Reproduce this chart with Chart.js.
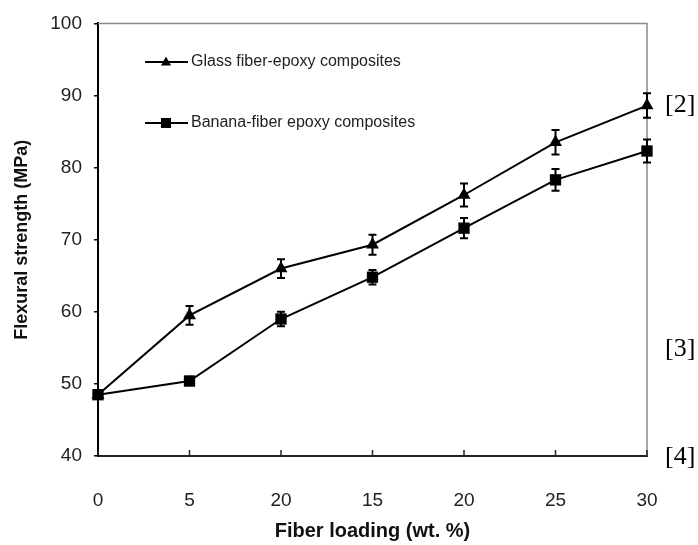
<!DOCTYPE html>
<html>
<head>
<meta charset="utf-8">
<script src="https://cdn.jsdelivr.net/npm/chart.js@4"></script>
<style>
  html, body { margin: 0; padding: 0; background: #fff; }
</style>
</head>
<body>
<canvas id="chart" width="698" height="545"></canvas>
<script>
// ----------------- DATA -----------------
const loadings = ["0", "5", "20", "15", "20", "25", "30"];
const glassVals = [48.5, 59.5, 66.0, 69.3, 76.2, 83.5, 88.6];
const glassErr = [0.6, 1.3, 1.3, 1.4, 1.6, 1.7, 1.7];
const bananaVals = [48.5, 50.4, 59.0, 64.8, 71.6, 78.3, 82.3];
const bananaErr = [0.6, 0.6, 1.0, 1.0, 1.4, 1.5, 1.6];
const yTicks = [40, 50, 60, 70, 80, 90, 100];
const seriesNames = ["Glass fiber-epoxy composites", "Banana-fiber epoxy composites"];
const refLabels = ["[2]", "[3]", "[4]"];
const refLevels = [88.6, 54.8, 39.9];

const SANS = "'Liberation Sans', Arial, sans-serif";
const errorSets = [glassErr, bananaErr];

// ----------------- PLUGINS -----------------
// grey top/right frame + inward ticks on the x axis
const framePlugin = {
  id: "frame",
  beforeDatasetsDraw(chart) {
    const { ctx, chartArea: a, scales } = chart;
    ctx.save();
    ctx.strokeStyle = "#8a8a8a";
    ctx.lineWidth = 1.5;
    ctx.beginPath();
    ctx.moveTo(a.left, a.top);
    ctx.lineTo(a.right, a.top);
    ctx.lineTo(a.right, a.bottom);
    ctx.stroke();

    ctx.strokeStyle = "#222";
    ctx.lineWidth = 1.5;
    scales.x.ticks.forEach((t, i) => {
      const x = scales.x.getPixelForTick(i);
      ctx.beginPath();
      ctx.moveTo(x, a.bottom);
      ctx.lineTo(x, a.bottom - 6);
      ctx.stroke();
    });
    ctx.restore();
  }
};

// error bars
const errorPlugin = {
  id: "errbars",
  afterDatasetsDraw(chart) {
    const { ctx, scales } = chart;
    ctx.save();
    ctx.strokeStyle = "#000";
    ctx.lineWidth = 2;
    chart.data.datasets.forEach((ds, di) => {
      const meta = chart.getDatasetMeta(di);
      meta.data.forEach((pt, i) => {
        const v = ds.data[i], e = errorSets[di][i];
        const yT = scales.y.getPixelForValue(v + e);
        const yB = scales.y.getPixelForValue(v - e);
        ctx.beginPath();
        ctx.moveTo(pt.x, yT); ctx.lineTo(pt.x, yB);
        ctx.moveTo(pt.x - 4, yT); ctx.lineTo(pt.x + 4, yT);
        ctx.moveTo(pt.x - 4, yB); ctx.lineTo(pt.x + 4, yB);
        ctx.stroke();
      });
    });
    ctx.restore();
  }
};

// legend inside the plot
const legendPlugin = {
  id: "innerLegend",
  afterDraw(chart) {
    const { ctx } = chart;
    const rows = [62, 123];
    ctx.save();
    chart.data.datasets.forEach((ds, i) => {
      const y = rows[i];
      ctx.strokeStyle = "#000";
      ctx.lineWidth = 2;
      ctx.beginPath();
      ctx.moveTo(145, y); ctx.lineTo(188, y);
      ctx.stroke();
      ctx.fillStyle = "#000";
      ctx.beginPath();
      if (ds.pointStyle === "triangle") {
        ctx.moveTo(166, y - 5.5); ctx.lineTo(171, y + 3.5); ctx.lineTo(161, y + 3.5);
      } else {
        ctx.rect(161, y - 5, 10, 10);
      }
      ctx.fill();
      ctx.fillStyle = "#222";
      ctx.font = "16px " + SANS;
      ctx.textBaseline = "middle";
      ctx.fillText(seriesNames[i], 191, y);
    });
    ctx.restore();
  }
};

// reference marks on the right
const refPlugin = {
  id: "refs",
  afterDraw(chart) {
    const { ctx, scales } = chart;
    ctx.save();
    ctx.fillStyle = "#000";
    ctx.font = "26px 'Liberation Serif', 'Times New Roman', serif";
    ctx.textBaseline = "middle";
    refLabels.forEach((t, i) => {
      ctx.fillText(t, 665, scales.y.getPixelForValue(refLevels[i]));
    });
    ctx.restore();
  }
};

// ----------------- CHART -----------------
const ctx = document.getElementById("chart").getContext("2d");
new Chart(ctx, {
  type: "line",
  data: {
    labels: loadings,
    datasets: [
      {
        label: seriesNames[0],
        data: glassVals,
        borderColor: "#000",
        backgroundColor: "#000",
        borderWidth: 2,
        pointStyle: "triangle",
        pointRadius: 7.5,
        pointBorderWidth: 0,
        tension: 0,
        clip: false
      },
      {
        label: seriesNames[1],
        data: bananaVals,
        borderColor: "#000",
        backgroundColor: "#000",
        borderWidth: 2,
        pointStyle: "rect",
        pointRadius: 8,
        pointBorderWidth: 0,
        tension: 0,
        clip: false
      }
    ]
  },
  options: {
    responsive: false,
    animation: false,
    layout: { padding: { top: 19, right: 51, left: 0, bottom: 0 } },
    plugins: { legend: { display: false }, tooltip: { enabled: false } },
    scales: {
      x: {
        offset: false,
        grid: { display: false },
        border: { color: "#222", width: 2 },
        ticks: { padding: 25, color: "#222", font: { size: 19, family: SANS }, maxRotation: 0, autoSkip: false },
        title: {
          display: true,
          text: "Fiber loading (wt. %)",
          color: "#111",
          font: { size: 20, weight: "bold", family: SANS },
          padding: { top: 0, bottom: 2 }
        },
        afterFit: s => { s.height = 89; }
      },
      y: {
        min: 40,
        max: 100,
        afterBuildTicks: s => { s.ticks = yTicks.map(v => ({ value: v })); },
        grid: { drawOnChartArea: false, tickLength: 4, color: "#000", lineWidth: 1.5 },
        border: { color: "#000", width: 2 },
        ticks: { padding: 12, color: "#222", font: { size: 19, family: SANS } },
        title: {
          display: true,
          text: "Flexural strength (MPa)",
          color: "#111",
          font: { size: 18, weight: "bold", family: SANS },
          padding: { top: 11, bottom: 0 }
        },
        afterFit: s => { s.width = 98; }
      }
    }
  },
  plugins: [framePlugin, errorPlugin, legendPlugin, refPlugin]
});
</script>
</body>
</html>
